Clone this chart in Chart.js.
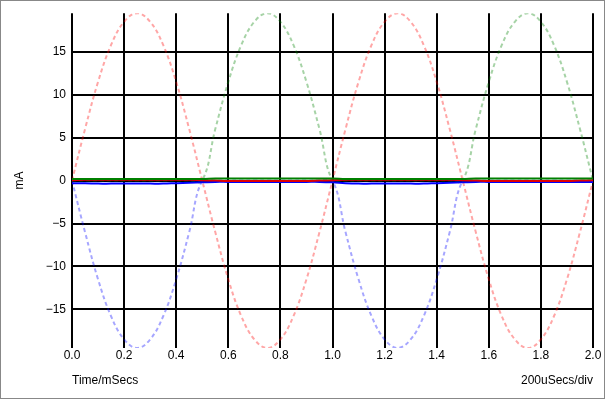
<!DOCTYPE html>
<html>
<head>
<meta charset="utf-8">
<script src="https://cdn.jsdelivr.net/npm/chart.js@4/dist/chart.umd.min.js"></script>
<style>
	html, body { margin: 0; padding: 0; background: #fff; }
	#wrap { width: 606px; height: 400px; }
</style>
</head>
<body>
<div id="wrap"><canvas id="scopeChart" width="606" height="400"></canvas></div>
<script>
'use strict'
/*-----data-----*/
var timeMs = [0, 0.05, 0.1, 0.15, 0.2, 0.25, 0.3, 0.35, 0.4, 0.45, 0.5, 0.55, 0.6, 0.65, 0.7, 0.75, 0.8, 0.85, 0.9, 0.95, 1.0,
	1.05, 1.1, 1.15, 1.2, 1.25, 1.3, 1.35, 1.4, 1.45, 1.5, 1.55, 1.6, 1.65, 1.7, 1.75, 1.8, 1.85, 1.9, 1.95, 2.0];
var redDashed = [0, 6.0, 11.5, 15.8, 18.5, 19.5, 18.5, 15.8, 11.5, 6.0, 0, -6.0, -11.5, -15.8, -18.5, -19.5, -18.5, -15.8, -11.5, -6.0, 0,
	6.0, 11.5, 15.8, 18.5, 19.5, 18.5, 15.8, 11.5, 6.0, 0, -6.0, -11.5, -15.8, -18.5, -19.5, -18.5, -15.8, -11.5, -6.0, 0];
var greenDashed = [0, 0, 0, 0, 0, 0, 0, 0, 0, 0, 0, 6.0, 11.5, 15.8, 18.5, 19.5, 18.5, 15.8, 11.5, 6.0, 0,
	0, 0, 0, 0, 0, 0, 0, 0, 0, 0, 6.0, 11.5, 15.8, 18.5, 19.5, 18.5, 15.8, 11.5, 6.0, 0];
var blueDashed = [0, -6.0, -11.5, -15.8, -18.5, -19.5, -18.5, -15.8, -11.5, -6.0, 0, 0, 0, 0, 0, 0, 0, 0, 0, 0, 0,
	-6.0, -11.5, -15.8, -18.5, -19.5, -18.5, -15.8, -11.5, -6.0, 0, 0, 0, 0, 0, 0, 0, 0, 0, 0, 0];
var redSolid = [0.05, 0.1, 0.1, 0.1, 0.1, 0.1, 0.1, 0.1, 0.1, 0.1, 0.05, 0, -0.05, -0.05, -0.05, -0.05, -0.05, -0.05, -0.05, 0, 0.05,
	0.1, 0.1, 0.1, 0.1, 0.1, 0.1, 0.1, 0.1, 0.1, 0.05, 0, -0.05, -0.05, -0.05, -0.05, -0.05, -0.05, -0.05, 0, 0.05];
var greenSolid = [0.2, 0.2, 0.2, 0.2, 0.2, 0.2, 0.2, 0.2, 0.2, 0.2, 0.2, 0.25, 0.25, 0.25, 0.25, 0.25, 0.25, 0.25, 0.25, 0.25, 0.25,
	0.2, 0.2, 0.2, 0.2, 0.2, 0.2, 0.2, 0.2, 0.2, 0.2, 0.25, 0.25, 0.25, 0.25, 0.25, 0.25, 0.25, 0.25, 0.25, 0.25];
var blueSolid = [-0.3, -0.3, -0.35, -0.35, -0.35, -0.35, -0.35, -0.35, -0.3, -0.25, -0.2, -0.15, -0.15, -0.15, -0.15, -0.15, -0.15, -0.15, -0.15, -0.15, -0.2,
	-0.3, -0.35, -0.35, -0.35, -0.35, -0.35, -0.35, -0.3, -0.25, -0.2, -0.15, -0.15, -0.15, -0.15, -0.15, -0.15, -0.15, -0.15, -0.15, -0.15];
var xTicks = [0, 0.2, 0.4, 0.6, 0.8, 1.0, 1.2, 1.4, 1.6, 1.8, 2.0];
var yTicks = [-15, -10, -5, 0, 5, 10, 15];
var yLabel = 'mA';
var xLabelLeft = 'Time/mSecs';
var xLabelRight = '200uSecs/div';

function pts(ys) {
	return timeMs.map(function(t, i) { return { x: t, y: ys[i] }; });
}

function line(ys, color, dashed) {
	return {
		data: pts(ys),
		borderColor: color,
		borderWidth: 2,
		borderDash: dashed ? [4, 3] : [],
		pointRadius: 0,
		tension: 0.4,
		fill: false
	};
}

var FONT = 'Liberation Sans';

/*-----frame + free texts-----*/
var scopeText = {
	id: 'scopeText',
	beforeDraw: function(chart) {
		var c = chart.ctx;
		c.save();
		c.fillStyle = '#fff';
		c.fillRect(0, 0, chart.width, chart.height);
		c.restore();
	},
	afterDraw: function(chart) {
		var c = chart.ctx, a = chart.chartArea;
		c.save();
		c.strokeStyle = '#888';
		c.lineWidth = 1;
		c.strokeRect(0.5, 0.5, 604, 398);
		c.fillStyle = '#000';
		c.font = '12px "' + FONT + '"';
		c.textBaseline = 'middle';
		c.textAlign = 'left';
		c.fillText(xLabelLeft, a.left, 381);
		c.textAlign = 'right';
		c.fillText(xLabelRight, a.right, 381);
		c.translate(20, (a.top + a.bottom) / 2);
		c.rotate(-Math.PI / 2);
		c.textAlign = 'center';
		c.fillText(yLabel, 0, 0);
		c.restore();
	}
};

var ctx = document.getElementById('scopeChart');
var myChart = new Chart(ctx, {
	type: 'line',
	data: {
		datasets: [
			line(greenSolid, '#008000', false),
			line(redSolid, '#e00000', false),
			line(blueSolid, '#0000ff', false),
			line(redDashed, 'rgba(255, 0, 0, 0.35)', true),
			line(greenDashed, 'rgba(0, 128, 0, 0.35)', true),
			line(blueDashed, 'rgba(0, 0, 255, 0.35)', true)
		]
	},
	options: {
		responsive: false,
		animation: false,
		layout: { padding: { left: 0, right: 13, top: 12, bottom: 0 } },
		plugins: { legend: { display: false }, tooltip: { enabled: false } },
		scales: {
			x: {
				type: 'linear',
				min: 0,
				max: 2.0,
				afterBuildTicks: function(axis) { axis.ticks = xTicks.map(function(v) { return { value: v }; }); },
				afterFit: function(axis) { axis.height = 52; },
				border: { display: false },
				grid: { color: '#000', lineWidth: 2, drawTicks: false },
				ticks: {
					color: '#000',
					padding: 0,
					maxRotation: 0,
					font: { family: FONT, size: 12 },
					callback: function(v) { return Number(v).toFixed(1); }
				}
			},
			y: {
				type: 'linear',
				min: -19.5,
				max: 19.5,
				afterBuildTicks: function(axis) { axis.ticks = yTicks.map(function(v) { return { value: v }; }); },
				afterFit: function(axis) { axis.width = 72; },
				border: { display: false },
				grid: { color: '#000', lineWidth: 2, drawTicks: false },
				ticks: {
					color: '#000',
					padding: 6,
					font: { family: FONT, size: 12 },
					callback: function(v) { return v < 0 ? '\u2212' + Math.abs(v) : String(v); }
				}
			}
		}
	},
	plugins: [scopeText]
});
</script>
</body>
</html>
